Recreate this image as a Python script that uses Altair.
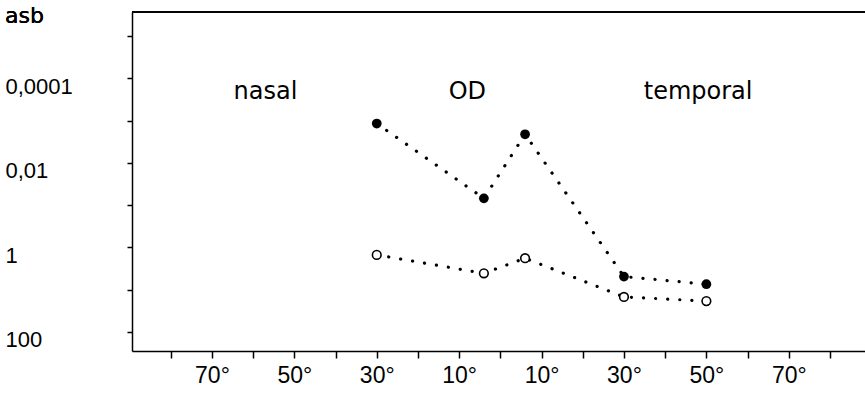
import altair as alt
import pandas as pd

# eccentricity in degrees: negative = nasal, positive = temporal
ecc = [-30, -4, 6, 30, 50]
filled_asb = [0.00117, 0.069, 0.0021, 4.9, 7.4]
open_asb = [1.5, 4.1, 1.8, 14.8, 18.6]

x_ticks = [-80, -70, -60, -50, -40, -30, -20, -10, 0, 10, 20, 30, 40, 50, 60, 70, 80]
x_labeled = [-70, -50, -30, -10, 10, 30, 50, 70]
y_ticks = [1e-5, 1e-4, 1e-3, 1e-2, 1e-1, 1, 10, 100]

ann_text = ["nasal", "OD", "temporal"]
ann_x = [-57, -8, 48]
ann_y = [2.1e-4, 2.1e-4, 2.1e-4]

W, H = 733, 339
NUM_FONT = "Liberation Sans"
TXT_FONT = "DejaVu Sans"

df = pd.DataFrame(
    {
        "ecc": ecc * 2,
        "asb": filled_asb + open_asb,
        "series": ["filled"] * 5 + ["open"] * 5,
    }
)
ann = pd.DataFrame({"t": ann_text, "x": ann_x, "y": ann_y})

xscale = alt.Scale(domain=[-89.4, 88.5], nice=False, zero=False)
yscale = alt.Scale(type="log", domain=[10 ** -5.57, 10 ** 2.45], reverse=True, nice=False)

label_expr_x = "indexof([-70,-50,-30,-10,10,30,50,70], datum.value) >= 0 ? abs(datum.value) + '°' : ''"
label_expr_y = (
    "abs(datum.value - 0.0001) < 1e-9 ? '0,0001' : "
    "abs(datum.value - 0.01) < 1e-9 ? '0,01' : "
    "abs(datum.value - 1) < 1e-9 ? '1' : "
    "abs(datum.value - 100) < 1e-6 ? '100' : ''"
)

xaxis = alt.Axis(
    values=x_ticks,
    labelExpr=label_expr_x,
    title=None,
    grid=False,
    tickSize=7,
    tickColor="black",
    domainColor="black",
    domainWidth=1.5,
    tickWidth=1.5,
    labelFont=NUM_FONT,
    labelFontSize=23,
    labelColor="black",
    labelPadding=6,
    labelBaseline="top",
    labelOverlap=False,
    labelFlush=False,
)
yaxis = alt.Axis(
    values=y_ticks,
    labelExpr=label_expr_y,
    title=None,
    grid=False,
    tickSize=5,
    tickColor="black",
    domainColor="black",
    domainWidth=1.5,
    tickWidth=1.5,
    labelFont=NUM_FONT,
    labelFontSize=22,
    labelColor="black",
    labelAlign="left",
    labelPadding=122,
    labelBaseline="middle",
    labelOffset=8,
    labelOverlap=False,
    labelFlush=False,
)

base = alt.Chart(df)

lines = base.mark_line(
    color="black", strokeWidth=3.2, strokeDash=[0.1, 12], strokeCap="round"
).encode(
    x=alt.X("ecc:Q", scale=xscale, axis=xaxis),
    y=alt.Y("asb:Q", scale=yscale, axis=yaxis),
    detail="series:N",
)

filled_pts = base.transform_filter(alt.datum.series == "filled").mark_point(
    shape="circle", filled=True, color="black", size=95, opacity=1
).encode(x=alt.X("ecc:Q", scale=xscale), y=alt.Y("asb:Q", scale=yscale))

open_pts = base.transform_filter(alt.datum.series == "open").mark_point(
    shape="circle", filled=True, fill="white", stroke="black", strokeWidth=1.6, size=75, opacity=1
).encode(x=alt.X("ecc:Q", scale=xscale), y=alt.Y("asb:Q", scale=yscale))

texts = alt.Chart(ann).mark_text(
    font=TXT_FONT, fontSize=24, color="black", baseline="middle", align="center"
).encode(
    x=alt.X("x:Q", scale=xscale),
    y=alt.Y("y:Q", scale=yscale),
    text="t:N",
)

top_rule = alt.Chart(ann).mark_rule(color="black", strokeWidth=1.5).encode(
    x=alt.value(0), x2=alt.value(W + 5), y=alt.value(0)
)

asb = alt.Chart(ann).mark_text(
    text="asb", font=TXT_FONT, fontSize=22, color="black", align="left", baseline="middle"
).encode(x=alt.value(-127), y=alt.value(4))

chart = (
    alt.layer(lines, filled_pts, open_pts, texts, top_rule, asb)
    .properties(
        width=W,
        height=H,
        autosize=alt.AutoSizeParams(type="none"),
        padding={"left": 132, "top": 12, "right": 0, "bottom": 57},
    )
    .configure_view(stroke=None)
    .configure(background="white")
)

chart.save("out.html", embed_options={"renderer": "svg", "actions": False})
